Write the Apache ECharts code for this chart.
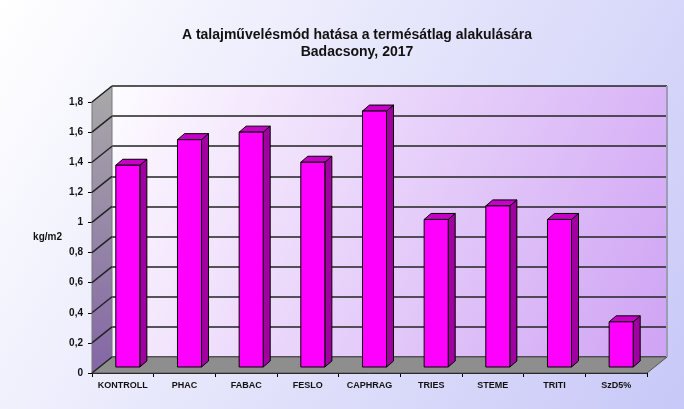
<!DOCTYPE html>
<html>
<head>
<meta charset="utf-8">
<script src="https://cdn.jsdelivr.net/npm/echarts@6/dist/echarts.min.js"></script>
<style>
  body { margin: 0; }
  #main { width: 684px; height: 409px; }
</style>
</head>
<body>
<div id="main"></div>
<script>
// adatok
var categories = ['KONTROLL', 'PHAC', 'FABAC', 'FESLO', 'CAPHRAG', 'TRIES', 'STEME', 'TRITI', 'SzD5%'];
var yields = [1.34, 1.51, 1.56, 1.36, 1.70, 0.98, 1.07, 0.98, 0.30];
var yTicks = [0, 0.2, 0.4, 0.6, 0.8, 1, 1.2, 1.4, 1.6, 1.8];

// 3D hatás: a hátfal eltolása, az oszlopok helye és mélysége (px)
var wallDepth = [20, -16];
var barShift = [5, -6];
var barDepth = [7, -6];

var chart = echarts.init(document.getElementById('main'));

function renderFrame(params, api) {
    var cs = params.coordSys;
    var left = cs.x, right = cs.x + cs.width;
    var top = cs.y, bottom = cs.y + cs.height;
    var dx = wallDepth[0], dy = wallDepth[1];
    var children = [];
    // bal oldalfal
    children.push({
        type: 'polygon',
        shape: { points: [[left, bottom], [left, top], [left + dx, top + dy], [left + dx, bottom + dy]] },
        style: {
            fill: new echarts.graphic.LinearGradient(0, 0, 0, 1, [
                { offset: 0, color: '#a9a9a9' },
                { offset: 1, color: '#8466a6' }
            ]),
            stroke: '#777', lineWidth: 1
        }
    });
    // padló
    children.push({
        type: 'polygon',
        shape: { points: [[left, bottom], [right, bottom], [right + dx, bottom + dy], [left + dx, bottom + dy]] },
        style: { fill: '#8e8e8e', stroke: '#555', lineWidth: 1 }
    });
    yTicks.forEach(function (t) {
        var y = api.coord([0, t])[1];
        children.push({
            type: 'line',
            shape: { x1: left, y1: y, x2: left + dx, y2: y + dy },
            style: { stroke: '#222', lineWidth: 1.5 }
        });
    });
    children.push({
        type: 'line',
        shape: { x1: right + dx, y1: top + dy, x2: right + dx, y2: bottom + dy },
        style: { stroke: '#9c9cb4', lineWidth: 2 }
    });
    return { type: 'group', children: children };
}

function renderBar(params, api) {
    var i = api.value(0), v = api.value(1);
    var top = api.coord([i, v]);
    var base = api.coord([i, 0]);
    var w = api.size([1, 0])[0] * 0.39;
    var x0 = top[0] - w / 2 + barShift[0], x1 = x0 + w;
    var yT = top[1] + barShift[1], yB = base[1] + barShift[1];
    var dx = barDepth[0], dy = barDepth[1];
    return {
        type: 'group',
        children: [
            {
                type: 'polygon',
                shape: { points: [[x1, yT], [x1 + dx, yT + dy], [x1 + dx, yB + dy], [x1, yB]] },
                style: { fill: '#a100a1', stroke: '#000', lineWidth: 1 }
            },
            {
                type: 'polygon',
                shape: { points: [[x0, yT], [x0 + dx, yT + dy], [x1 + dx, yT + dy], [x1, yT]] },
                style: { fill: '#c600c6', stroke: '#000', lineWidth: 1 }
            },
            {
                type: 'rect',
                shape: { x: x0, y: yT, width: w, height: yB - yT },
                style: { fill: '#ff00ff', stroke: '#000', lineWidth: 1 }
            }
        ]
    };
}

var labelFont = { color: '#111', fontFamily: 'Liberation Sans', fontWeight: 'bold', fontSize: 9 };

var option = {
    backgroundColor: new echarts.graphic.LinearGradient(0, 0, 1, 1, [
        { offset: 0, color: '#ffffff' },
        { offset: 1, color: '#c8c8f8' }
    ]),
    animation: false,
    title: {
        text: 'A talajművelésmód hatása a termésátlag alakulására\nBadacsony, 2017',
        left: 352,
        top: 22,
        textAlign: 'center',
        textStyle: {
            fontFamily: 'Liberation Sans',
            fontWeight: 'bold',
            fontSize: 14,
            lineHeight: 17,
            color: '#111'
        }
    },
    grid: [
        {
            // hátfal
            left: 112, right: 17, top: 86, bottom: 52,
            show: true,
            borderWidth: 0,
            backgroundColor: new echarts.graphic.LinearGradient(0, 0, 1, 1, [
                { offset: 0, color: '#fefcff' },
                { offset: 1, color: '#cfa3f4' }
            ])
        },
        {
            // elülső sík
            left: 92, right: 37, top: 102, bottom: 36
        }
    ],
    xAxis: [
        {
            gridIndex: 0,
            type: 'category',
            data: categories,
            show: false
        },
        {
            gridIndex: 1,
            type: 'category',
            data: categories,
            axisLine: { lineStyle: { color: '#000', width: 1 } },
            axisTick: { show: true, length: 4, lineStyle: { color: '#000' } },
            axisLabel: Object.assign({ margin: 8, interval: 0 }, labelFont)
        }
    ],
    yAxis: [
        {
            gridIndex: 0,
            type: 'value',
            min: 0, max: 1.8, interval: 0.2,
            axisLine: { show: false },
            axisTick: { show: false },
            axisLabel: { show: false },
            splitLine: { lineStyle: { color: '#222', width: 1.5 } }
        },
        {
            gridIndex: 1,
            type: 'value',
            min: 0, max: 1.8, interval: 0.2,
            name: 'kg/m2',
            nameLocation: 'middle',
            nameRotate: 0,
            nameGap: 30,
            nameTextStyle: Object.assign({}, labelFont, { fontSize: 10 }),
            axisLine: { show: true, lineStyle: { color: '#000', width: 1 } },
            axisTick: { show: true, length: 4, lineStyle: { color: '#000' } },
            axisLabel: Object.assign({}, labelFont, {
                fontSize: 10,
                margin: 9,
                formatter: function (v) { return String(Math.round(v * 10) / 10).replace('.', ','); }
            }),
            splitLine: { show: false }
        }
    ],
    series: [
        {
            type: 'custom',
            name: 'keret',
            xAxisIndex: 1,
            yAxisIndex: 1,
            z: 1,
            silent: true,
            renderItem: renderFrame,
            data: [[0, 0]]
        },
        {
            type: 'custom',
            name: 'termésátlag',
            xAxisIndex: 1,
            yAxisIndex: 1,
            z: 3,
            renderItem: renderBar,
            encode: { x: 0, y: 1 },
            data: yields.map(function (v, i) { return [i, v]; })
        }
    ]
};

chart.setOption(option);
</script>
</body>
</html>
